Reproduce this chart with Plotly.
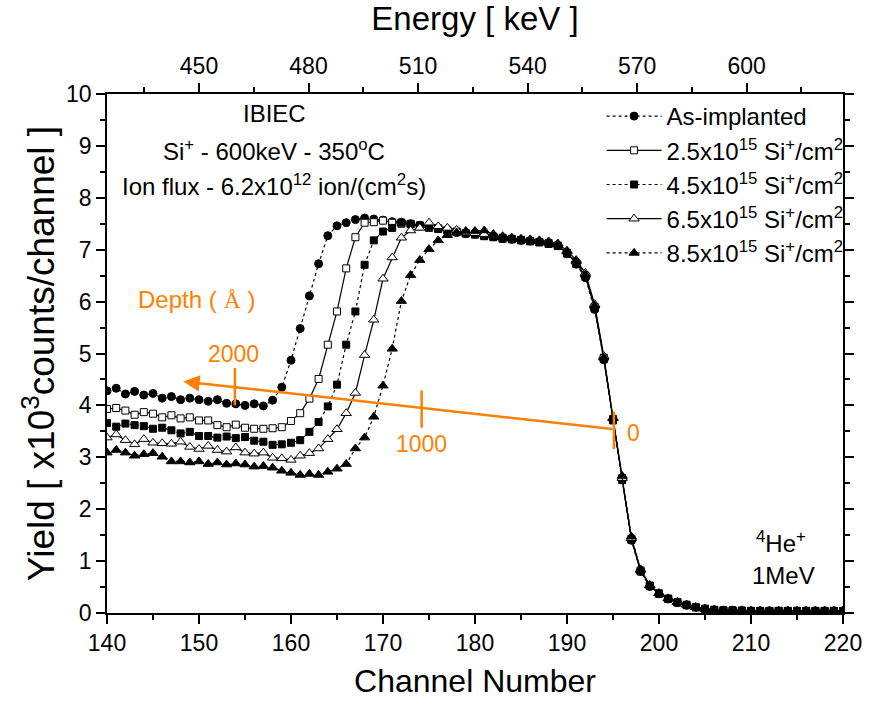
import plotly.graph_objects as go

channels = list(range(140, 221))

as_implanted = [4.28, 4.33, 4.22, 4.27, 4.20, 4.23, 4.14, 4.17, 4.11, 4.14,
                4.11, 4.08, 4.11, 4.04, 4.03, 4.00, 4.03, 3.99, 4.10, 4.35,
                4.87, 5.48, 6.11, 6.73, 7.27, 7.46, 7.52, 7.58, 7.61, 7.59,
                7.57, 7.54, 7.53, 7.50, 7.47, 7.44, 7.42, 7.38, 7.33, 7.31,
                7.30, 7.27, 7.25, 7.22, 7.20, 7.18, 7.17, 7.15, 7.12, 7.08,
                6.92, 6.72, 6.46, 5.85, 4.88, 3.72, 2.58, 1.40, 0.80, 0.51,
                0.37, 0.27, 0.20, 0.15, 0.11, 0.08, 0.06, 0.05, 0.05, 0.04,
                0.04, 0.04, 0.04, 0.04, 0.04, 0.04, 0.04, 0.04, 0.04, 0.04, 0.04]

dose_2_5 = [3.93, 3.95, 3.90, 3.82, 3.87, 3.84, 3.77, 3.81, 3.75, 3.77,
            3.71, 3.71, 3.62, 3.58, 3.63, 3.57, 3.55, 3.55, 3.56, 3.58,
            3.70, 3.85, 4.13, 4.51, 5.17, 5.81, 6.64, 7.24, 7.52, 7.53,
            7.56, 7.52, 7.50, 7.49, 7.45, 7.42, 7.40, 7.37, 7.34, 7.32,
            7.29, 7.27, 7.24, 7.23, 7.20, 7.19, 7.17, 7.14, 7.13, 7.07,
            6.93, 6.74, 6.50, 5.90, 4.92, 3.74, 2.60, 1.43, 0.82, 0.53,
            0.38, 0.28, 0.21, 0.16, 0.11, 0.08, 0.06, 0.05, 0.05, 0.05,
            0.04, 0.04, 0.04, 0.04, 0.04, 0.04, 0.04, 0.04, 0.04, 0.04, 0.04]

dose_4_5 = [3.66, 3.59, 3.65, 3.62, 3.60, 3.55, 3.57, 3.52, 3.46, 3.49,
            3.41, 3.41, 3.38, 3.40, 3.37, 3.39, 3.32, 3.30, 3.24, 3.25,
            3.28, 3.33, 3.49, 3.68, 3.98, 4.40, 5.17, 5.81, 6.71, 7.18,
            7.35, 7.42, 7.52, 7.50, 7.47, 7.44, 7.41, 7.36, 7.35, 7.31,
            7.30, 7.26, 7.25, 7.21, 7.21, 7.18, 7.16, 7.15, 7.11, 7.08,
            6.94, 6.73, 6.48, 5.87, 4.89, 3.71, 2.56, 1.41, 0.80, 0.52,
            0.37, 0.27, 0.20, 0.15, 0.11, 0.08, 0.06, 0.05, 0.05, 0.04,
            0.04, 0.04, 0.04, 0.04, 0.04, 0.04, 0.04, 0.04, 0.04, 0.04, 0.04]

dose_6_5 = [3.38, 3.44, 3.33, 3.25, 3.35, 3.28, 3.27, 3.26, 3.30, 3.20,
            3.16, 3.22, 3.14, 3.11, 3.19, 3.09, 3.07, 3.09, 2.99, 2.98,
            2.95, 3.03, 3.08, 3.17, 3.35, 3.54, 3.85, 4.24, 4.97, 5.65,
            6.44, 6.85, 7.23, 7.37, 7.42, 7.52, 7.45, 7.42, 7.38, 7.33,
            7.32, 7.30, 7.28, 7.24, 7.22, 7.21, 7.20, 7.18, 7.16, 7.12,
            6.98, 6.80, 6.55, 5.95, 4.95, 3.76, 2.60, 1.44, 0.84, 0.54,
            0.38, 0.28, 0.21, 0.16, 0.11, 0.08, 0.06, 0.05, 0.05, 0.05,
            0.04, 0.04, 0.04, 0.04, 0.04, 0.04, 0.04, 0.04, 0.04, 0.04, 0.04]

dose_8_5 = [3.09, 3.14, 3.09, 3.03, 3.06, 3.08, 3.01, 2.92, 2.92, 2.90,
            2.92, 2.87, 2.90, 2.86, 2.88, 2.86, 2.82, 2.83, 2.80, 2.74,
            2.70, 2.66, 2.68, 2.66, 2.72, 2.78, 2.87, 3.17, 3.38, 3.78,
            4.38, 5.09, 6.01, 6.51, 6.80, 7.01, 7.18, 7.28, 7.33, 7.36,
            7.36, 7.37, 7.30, 7.26, 7.23, 7.20, 7.18, 7.17, 7.14, 7.10,
            6.97, 6.78, 6.52, 5.92, 4.92, 3.75, 2.64, 1.47, 0.83, 0.53,
            0.38, 0.28, 0.21, 0.16, 0.11, 0.08, 0.06, 0.05, 0.05, 0.05,
            0.04, 0.04, 0.04, 0.04, 0.04, 0.04, 0.04, 0.04, 0.04, 0.04, 0.04]

series_names = ["As-implanted",
                "2.5x10<sup>15</sup> Si<sup>+</sup>/cm<sup>2</sup>",
                "4.5x10<sup>15</sup> Si<sup>+</sup>/cm<sup>2</sup>",
                "6.5x10<sup>15</sup> Si<sup>+</sup>/cm<sup>2</sup>",
                "8.5x10<sup>15</sup> Si<sup>+</sup>/cm<sup>2</sup>"]

# top energy axis (keV) spanning channel 140..220
energy_range = [424.8, 626.4]

# depth scale (Angstrom) along the orange arrow
depth_labels = ["0", "1000", "2000"]
depth_channels = [195.1, 174.2, 153.9]
depth_line_y = [3.52, 3.93, 4.36]
arrow_tail = (195.1, 3.54)
arrow_head = (148.3, 4.46)

ORANGE = "#FF7F00"
FONT = "Arial, Liberation Sans, sans-serif"

styles = [
    dict(symbol="circle", color="black", dash="dot", size=8),
    dict(symbol="square", color="white", dash="solid", size=7),
    dict(symbol="square", color="black", dash="dot", size=7),
    dict(symbol="triangle-up", color="white", dash="solid", size=9),
    dict(symbol="triangle-up", color="black", dash="dot", size=9),
]
all_series = [as_implanted, dose_2_5, dose_4_5, dose_6_5, dose_8_5]

fig = go.Figure()
for name, ys, st in zip(series_names, all_series, styles):
    fig.add_trace(go.Scatter(
        x=channels, y=ys, name=name, mode="lines+markers",
        legendgroup=name,
        line=dict(color="black", width=1.2, dash=st["dash"]),
        marker=dict(symbol=st["symbol"], size=st["size"], color=st["color"],
                    line=dict(color="black", width=1)),
    ))

# invisible trace to create the top energy axis
fig.add_trace(go.Scatter(x=energy_range, y=[None, None], xaxis="x2",
                         showlegend=False, hoverinfo="skip", mode="lines"))

# depth arrow
fig.add_annotation(x=arrow_head[0], y=arrow_head[1], ax=arrow_tail[0], ay=arrow_tail[1],
                   xref="x", yref="y", axref="x", ayref="y", text="",
                   showarrow=True, arrowhead=2, arrowsize=1.3, arrowwidth=2.5,
                   arrowcolor=ORANGE)
for lab, ch, yc in zip(depth_labels, depth_channels, depth_line_y):
    fig.add_shape(type="line", x0=ch, x1=ch, y0=yc - 0.36, y1=yc + 0.36,
                  xref="x", yref="y", line=dict(color=ORANGE, width=2.5))
ofont = dict(size=23, color=ORANGE, family=FONT)
fig.add_annotation(x=depth_channels[0] + 1.2, y=depth_line_y[0] - 0.05, text=depth_labels[0],
                   showarrow=False, xanchor="left", font=ofont)
fig.add_annotation(x=depth_channels[1], y=depth_line_y[1] - 0.68, text=depth_labels[1],
                   showarrow=False, font=ofont)
fig.add_annotation(x=depth_channels[2] - 0.2, y=depth_line_y[2] + 0.63, text=depth_labels[2],
                   showarrow=False, font=ofont)
fig.add_annotation(x=149.7, y=6.04,
                   text="Depth ( <span style='font-family:Liberation Serif, Times New Roman, serif'>Å</span> )",
                   showarrow=False, font=dict(size=24, color=ORANGE, family=FONT))

# text annotations
txt_font = dict(size=24, color="black", family=FONT)
fig.add_annotation(x=158.2, y=9.62, text="IBIEC", showarrow=False, font=txt_font)
fig.add_annotation(x=158.2, y=8.93, text="Si<sup>+</sup> - 600keV - 350<sup>o</sup>C",
                   showarrow=False, font=txt_font)
fig.add_annotation(x=158.2, y=8.24,
                   text="Ion flux - 6.2x10<sup>12</sup> ion/(cm<sup>2</sup>s)",
                   showarrow=False, font=txt_font)
fig.add_annotation(x=213.3, y=1.36, text="<sup>4</sup>He<sup>+</sup>", showarrow=False, font=txt_font)
fig.add_annotation(x=213.5, y=0.72, text="1MeV", showarrow=False, font=txt_font)

axis_common = dict(showline=True, linecolor="black", linewidth=1.5, showgrid=False,
                   zeroline=False, ticks="outside", tickcolor="black", tickwidth=1.5,
                   ticklen=9, tickfont=dict(size=23, color="black", family=FONT))

fig.update_layout(
    width=874, height=705,
    margin=dict(l=107, r=22, t=94, b=86),
    paper_bgcolor="white", plot_bgcolor="white",
    font=dict(family=FONT, color="black"),
    showlegend=True,
    legend=dict(x=0.672, y=1.0, xanchor="left", yanchor="top",
                bgcolor="rgba(0,0,0,0)", borderwidth=0,
                font=dict(size=24, color="black", family=FONT),
                itemwidth=55, tracegroupgap=5, traceorder="normal"),
    xaxis=dict(range=[140, 220], dtick=10, tick0=140,
               minor=dict(dtick=5, ticks="outside", ticklen=5, tickcolor="black", tickwidth=1.5),
               title=dict(text="Channel Number", font=dict(size=32, family=FONT), standoff=14),
               **axis_common),
    xaxis2=dict(range=energy_range, overlaying="x", side="top", anchor="y",
                dtick=30, tick0=450,
                minor=dict(dtick=15, ticks="outside", ticklen=5, tickcolor="black", tickwidth=1.5),
                title=dict(text="Energy [ keV ]", font=dict(size=33, family=FONT), standoff=14),
                **axis_common),
    yaxis=dict(range=[0, 10], dtick=1, tick0=0, mirror="ticks",
               minor=dict(dtick=0.5, ticks="outside", ticklen=5, tickcolor="black", tickwidth=1.5),
               title=dict(text="Yield [ x10<sup>3</sup>counts/channel ]", font=dict(size=37, family=FONT), standoff=0),
               **axis_common),
)

fig.write_html("out.html", config={"displayModeBar": False},
               post_script="document.body.style.margin='0px';document.body.style.overflow='hidden';")
